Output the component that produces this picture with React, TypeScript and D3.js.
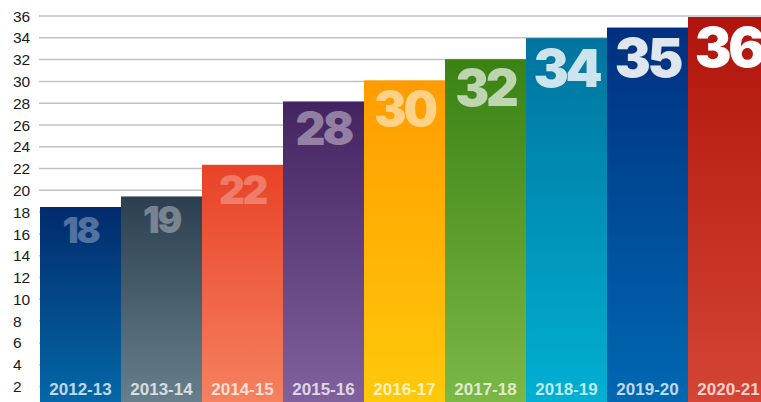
import React from "react";
import * as d3 from "d3";

const categories = ["2012-13", "2013-14", "2014-15", "2015-16", "2016-17", "2017-18", "2018-19", "2019-20", "2020-21"];
const values = [18, 19, 22, 28, 30, 32, 34, 35, 36];
const tickValues = [2, 4, 6, 8, 10, 12, 14, 16, 18, 20, 22, 24, 26, 28, 30, 32, 34, 36];

const gradTop = ["#022b6c", "#2c3f50", "#e84227", "#432460", "#ff9c00", "#3a8214", "#00749f", "#00307f", "#b0140c"];
const gradBottom = ["#0467a7", "#667f8b", "#f5815f", "#80619e", "#ffc90a", "#7bb846", "#00b0d2", "#0068b2", "#d44535"];
const numberOpacity = [0.33, 0.35, 0.3, 0.42, 0.52, 0.66, 0.8, 0.88, 1];

const W = 761;
const H = 402;

export default function App() {
  const x = d3.scaleBand<string>().domain(categories).range([40, 769]).paddingInner(0).paddingOuter(0);
  const yBar = d3.scaleLinear().domain([0, 36]).range([397, 17]);
  const yAxis = d3.scaleLinear().domain([2, 36]).range([386.5, 16]);
  const capScale = d3.scaleLinear().domain([18, 36]).range([26, 40]);

  return (
    <svg
      width={W}
      height={H}
      viewBox={`0 0 ${W} ${H}`}
      style={{ position: "absolute", left: 0, top: 0, display: "block", background: "#fff" }}
    >
      <defs>
        {categories.map((c, i) => (
          <linearGradient key={c} id={`g${i}`} x1="0" y1="0" x2="0" y2="1">
            <stop offset="0%" stopColor={gradTop[i]} />
            <stop offset="100%" stopColor={gradBottom[i]} />
          </linearGradient>
        ))}
      </defs>
      <g>
        {tickValues.map((t) => (
          <g key={t}>
            <line x1={39} x2={W} y1={yAxis(t)} y2={yAxis(t)} stroke="#c2c2c2" strokeWidth={1.5} />
            <text
              x={13}
              y={yAxis(t)}
              dy="0.36em"
              fontFamily="'Liberation Sans', Arial, sans-serif"
              fontSize={15.5}
              fill="#1a1a1a"
            >
              {t}
            </text>
          </g>
        ))}
      </g>
      <g>
        {categories.map((c, i) => {
          const bx = x(c)!;
          const bw = x.bandwidth();
          const top = yBar(values[i]);
          const cap = capScale(values[i]);
          const fs = cap / 0.727;
          return (
            <g key={c}>
              <rect x={bx} y={top} width={bw} height={H - top} fill={`url(#g${i})`} />
              <text
                x={bx + bw / 2}
                y={top + 10 + cap}
                textAnchor="middle"
                fontFamily="Inter, Roboto, sans-serif"
                fontWeight={900}
                fontSize={fs}
                letterSpacing={-fs * 0.06}
                fill="#ffffff"
                fillOpacity={numberOpacity[i]}
              >
                {values[i]}
              </text>
              <text
                x={bx + bw / 2}
                y={395}
                textAnchor="middle"
                fontFamily="'Liberation Sans Narrow', 'Arial Narrow', sans-serif"
                fontWeight={700}
                fontSize={17}
                fill="#ffffff"
                fillOpacity={0.75}
              >
                {c}
              </text>
            </g>
          );
        })}
      </g>
    </svg>
  );
}
